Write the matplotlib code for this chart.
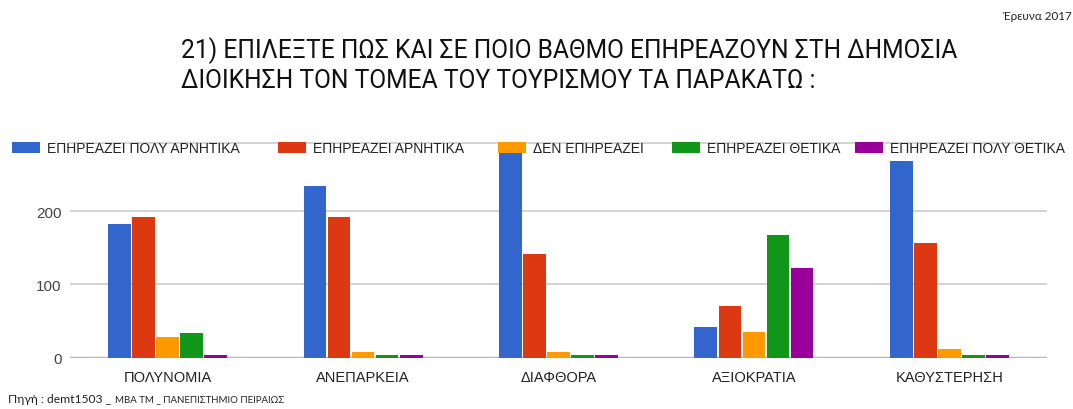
import matplotlib
matplotlib.use("Agg")
import numpy as np
import matplotlib.pyplot as plt

# Categories and answer counts per series
categories = ["ΠΟΛΥΝΟΜΙΑ", "ΑΝΕΠΑΡΚΕΙΑ", "ΔΙΑΦΘΟΡΑ", "ΑΞΙΟΚΡΑΤΙΑ", "ΚΑΘΥΣΤΕΡΗΣΗ"]
series_names = [
    "ΕΠΗΡΕΑΖΕΙ ΠΟΛΥ ΑΡΝΗΤΙΚΑ",
    "ΕΠΗΡΕΑΖΕΙ ΑΡΝΗΤΙΚΑ",
    "ΔΕΝ ΕΠΗΡΕΑΖΕΙ",
    "ΕΠΗΡΕΑΖΕΙ ΘΕΤΙΚΑ",
    "ΕΠΗΡΕΑΖΕΙ ΠΟΛΥ ΘΕΤΙΚΑ",
]
very_negative = [182, 234, 300, 41, 269]
negative = [192, 192, 141, 70, 157]
no_effect = [28, 7, 7, 35, 11]
positive = [33, 3, 3, 168, 3]
very_positive = [4, 3, 3, 122, 3]
y_ticks = [0, 100, 200]

colors = ["#3366cc", "#dc3912", "#ff9900", "#109618", "#990099"]
# left edge (px) of each legend entry
legend_x = [12, 278, 498, 672, 855]

fig = plt.figure(figsize=(10.73, 4.10), dpi=100)
ax = fig.add_axes([70 / 1073, 51.5 / 410, 977 / 1073, 214.5 / 410])

x = np.arange(len(categories))
step = 0.123
all_series = [very_negative, negative, no_effect, positive, very_positive]
handles = []
for i, (vals, col, name) in enumerate(zip(all_series, colors, series_names)):
    b = ax.bar(x + (i - 2) * step, vals, width=step - 0.007, color=col,
               linewidth=0, label=name, zorder=2)
    handles.append(b)

ax.set_xlim(-0.5, len(categories) - 0.5)
ax.set_ylim(0, 293)
ax.set_yticks(y_ticks)
ax.set_xticks(x)
ax.set_xticklabels(categories, fontfamily="Liberation Sans", fontsize=10.5, color="#222222")
for lbl in ax.get_yticklabels():
    lbl.set_fontfamily("Liberation Sans")
    lbl.set_fontsize(11)
    lbl.set_color("#444444")
ax.tick_params(length=0, pad=6)
ax.tick_params(axis="x", pad=9)

ax.grid(axis="y", color="#cccccc", linewidth=1.2, zorder=0)
for side in ["left", "right", "bottom"]:
    ax.spines[side].set_visible(False)
ax.spines["top"].set_color("#cccccc")
ax.spines["top"].set_linewidth(1.2)
ax.axhline(0, color="#555555", linewidth=1.6, zorder=1.5)

# One legend entry per series, laid out along the top edge of the plot
for h, name, lx in zip(handles, series_names, legend_x):
    leg = fig.legend([h], [name], loc="center left",
                     bbox_to_anchor=(lx / 1073, 1 - 149 / 410),
                     frameon=False, borderpad=0, borderaxespad=0,
                     handlelength=2.0, handleheight=0.85, handletextpad=0.5,
                     prop={"family": "Liberation Sans", "size": 10})
    leg.get_texts()[0].set_color("#222222")

fig.text(181 / 1073, 1 - 37 / 410,
         "21) ΕΠΙΛΕΞΤΕ ΠΩΣ ΚΑΙ ΣΕ ΠΟΙΟ ΒΑΘΜΟ ΕΠΗΡΕΑΖΟΥΝ ΣΤΗ ΔΗΜΟΣΙΑ\n"
         "ΔΙΟΙΚΗΣΗ ΤΟΝ ΤΟΜΕΑ ΤΟΥ ΤΟΥΡΙΣΜΟΥ ΤΑ ΠΑΡΑΚΑΤΩ :",
         ha="left", va="top", fontfamily="Roboto", fontsize=17.7,
         linespacing=1.25, color="#111111")

fig.text(1003 / 1073, 1 - 17 / 410, "Έρευνα 2017", ha="left", va="center",
         fontfamily="Lato", fontsize=8.4, color="#222222")

fig.text(8 / 1073, 1 - 400 / 410, "Πηγή : demt1503 _", ha="left", va="center",
         fontfamily="Lato", fontsize=8.7, color="#222222")
fig.text(115 / 1073, 1 - 400 / 410, "ΜΒΑ ΤΜ _ ΠΑΝΕΠΙΣΤΗΜΙΟ ΠΕΙΡΑΙΩΣ", ha="left",
         va="center", fontfamily="Lato", fontsize=6.9, color="#222222")

fig.savefig("out.png", dpi=100)
